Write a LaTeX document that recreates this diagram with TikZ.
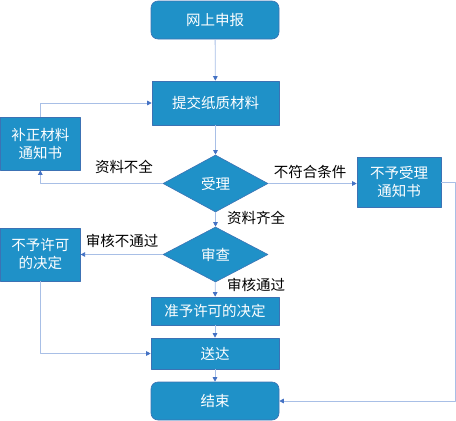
\documentclass[tikz,border=0pt]{standalone}
\usepackage{fontspec}
\newfontfamily\cjk{Noto Sans CJK SC}
\usetikzlibrary{arrows.meta,shapes.geometric}
\definecolor{boxfill}{HTML}{1F91C8}
\definecolor{boxedge}{HTML}{3C72B4}
\definecolor{linkblue}{HTML}{A8BFE6}
\definecolor{tipblue}{HTML}{4472C4}
\tikzset{
  every picture/.style={x=1pt, y=-1pt, line join=round, font=\cjk\fontsize{14.5}{18}\selectfont},
  stepbox/.style={draw=boxedge, line width=0.6pt, fill=boxfill, text=white, align=center, inner sep=0pt},
  endbox/.style={stepbox, rounded corners=7pt},
  choice/.style={diamond, draw=boxedge, line width=0.6pt, fill=boxfill, text=white, inner sep=0pt},
  link/.style={draw=linkblue, line width=0.8pt, -{Triangle[length=4.5pt,width=4.5pt,color=tipblue]}},
  tag/.style={text=black, inner sep=0pt},
}

\begin{document}
\begin{tikzpicture}
\useasboundingbox (0,0) rectangle (456,421);
% boxes
\node[endbox, minimum width=128pt, minimum height=38pt] (report) at (215,20) {网上申报};
\node[stepbox, minimum width=127pt, minimum height=44pt] (submit) at (215.5,103) {提交纸质材料};
\node[stepbox, minimum width=80pt, minimum height=53pt] (correct) at (40.3,143.5) {补正材料\\通知书};
\node[choice, minimum width=105pt, minimum height=57pt] (accept) at (215.5,183.5) {受理};
\node[stepbox, minimum width=84pt, minimum height=50pt] (refuse) at (399,182) {不予受理\\通知书};
\node[choice, minimum width=105pt, minimum height=55pt] (review) at (215.5,254.5) {审查};
\node[stepbox, minimum width=80pt, minimum height=53pt] (deny) at (40.3,254.5) {不予许可\\的决定};
\node[stepbox, minimum width=128pt, minimum height=28pt] (grant) at (215,311) {准予许可的决定};
\node[stepbox, minimum width=128pt, minimum height=31pt] (deliver) at (215,353.5) {送达};
\node[endbox, minimum width=128pt, minimum height=38pt] (finish) at (215,401) {结束};
% connectors
\draw[link] (report) -- (submit);
\draw[link] (correct.north) |- (submit.west);
\draw[link] (submit) -- (accept);
\draw[link] (accept.west) -| (correct.south);
\draw[link] (accept.east) -- (accept.east -| refuse.west);
\draw[link] (refuse.east) -- ++(14,0) |- (finish.east);
\draw[link] (accept) -- (review);
\draw[link] (review.west) -- (deny.east);
\draw[link] (review) -- (grant);
\draw[link] (grant) -- (deliver);
\draw[link] (deny.south) |- (deliver.west);
\draw[link] (deliver) -- (finish);
% labels
\node[tag] (lackdoc) at (124,167) {资料不全};
\node[tag] (unfit) at (310,172) {不符合条件};
\node[tag] (fulldoc) at (256,218) {资料齐全};
\node[tag] (fail) at (122,241) {审核不通过};
\node[tag] (pass) at (256,285) {审核通过};
\end{tikzpicture}
\end{document}
